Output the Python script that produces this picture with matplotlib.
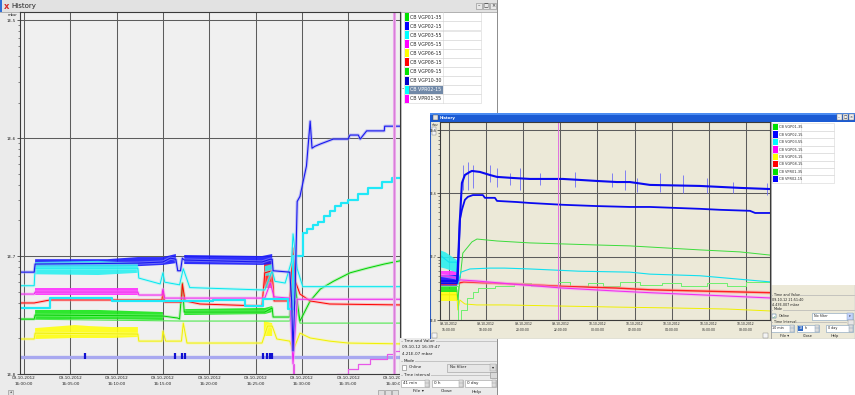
import matplotlib.pyplot as plt
import numpy as np
from matplotlib.patches import Rectangle
from matplotlib.transforms import Bbox
from matplotlib.ticker import LogLocator, NullFormatter

nan = np.nan
W, H = 855, 395

# ---------------- window 1: 09-10-2012, minutes after 16:00:00 ----------------
left_ticks = [0, 5, 10, 15, 20, 25, 30, 35, 40]
left_tick_labels = ['09-10-2012\n16:00:00', '09-10-2012\n16:05:00', '09-10-2012\n16:10:00',
                    '09-10-2012\n16:15:00', '09-10-2012\n16:20:00', '09-10-2012\n16:25:00',
                    '09-10-2012\n16:30:00', '09-10-2012\n16:35:00', '09-10-2012\n16:40:00']
left_xlim = (-0.43, 40.6)
left_ylim = (1e-8, 1.17e-5)
left_cursor = 39.9
left_names = ['CB VGP01-35', 'CB VGP02-15', 'CB VGP03-55', 'CB VGP05-15', 'CB VGP06-15',
              'CB VGP08-15', 'CB VGP09-15', 'CB VGP10-30', 'CB VPR02-15', 'CB VPR01-35']
left_colors = ['#00e000', '#0000ff', '#00ffff', '#ff00ff', '#ffff00',
               '#ff0000', '#00e000', '#0000c8', '#00ffff', '#ff00ff']

l_vgp01_t = [-0.43, 1.1, 1.2, 15.0, 16.6, 16.8, 17.1, 17.3, 26.0, 26.8, 26.9, 28.7, 29.05,
             29.5, 29.8, 30.9, 32.0, 33.4, 35.2, 37.1, 38.9, 40.6]
l_vgp01_v = [2.92e-8, 2.92e-8, 3.16e-8, 3.1e-8, 2.98e-8, 2.92e-8, 5.9e-8, 3.35e-8, 3.35e-8,
             3.63e-8, 3.04e-8, 3.04e-8, 7.9e-8, 4.16e-8, 2.81e-8, 4.16e-8, 5.25e-8, 6.1e-8,
             7.2e-8, 7.9e-8, 8.55e-8, 9.1e-8]
l_vgp01_band_t = [1.2, 8.0, 15.0, nan, 17.3, 26.0, 26.8]
l_vgp01_band_hi = [3.49e-8, 3.49e-8, 3.35e-8, nan, 3.55e-8, 3.63e-8, 3.77e-8]
l_vgp01_band_lo = [2.92e-8, 2.92e-8, 2.87e-8, nan, 3.16e-8, 3.22e-8, 3.35e-8]

l_vgp09_t = [-0.43, 17.3, 28.7, 29.3, 29.8, 40.6]
l_vgp09_v = [2.92e-8, 2.81e-8, 2.81e-8, 4.16e-8, 2.7e-8, 2.7e-8]

l_vgp02_t = [-0.43, 1.1, 1.2, 12.3, 15.0, 15.8, 16.4, 16.6, 16.9, 17.1, 17.3, 25.7, 26.6,
             26.8, 26.9, 28.7, 28.9, 29.05, 29.3, 29.5, 29.8, 30.5, 30.9, 31.1, 31.4, 32.0,
             33.4, 35.0, 35.2, 36.1, 36.3, 37.0, 38.9, 38.95, 40.6]
l_vgp02_v = [7.3e-8, 7.3e-8, 8.55e-8, 8.7e-8, 8.9e-8, 9.6e-8, 9.4e-8, 7.5e-8, 7.5e-8, 9.6e-8,
             9.25e-8, 8.9e-8, 9.4e-8, 9.4e-8, 7.5e-8, 7.3e-8, 4.16e-8, 1.57e-8, 6.1e-8, 2.9e-7,
             3.2e-7, 5.8e-7, 1.39e-6, 8.2e-7, 8.5e-7, 8.9e-7, 9.8e-7, 9.8e-7, 1.06e-6, 1.06e-6,
             9.8e-7, 1.15e-6, 1.15e-6, 1.26e-6, 1.26e-6]
l_vgp02_band_t = [1.2, 9.0, 12.3, 15.0, 16.4, nan, 17.3, 25.7, 26.8]
l_vgp02_band_hi = [9.4e-8, 9.4e-8, 9.8e-8, 9.8e-8, 1.04e-7, nan, 1.02e-7, 1.0e-7, 1.04e-7]
l_vgp02_band_lo = [8.05e-8, 8.05e-8, 8.2e-8, 8.4e-8, 8.7e-8, nan, 8.55e-8, 8.4e-8, 8.55e-8]

l_vgp03_t = [-0.43, 1.1, 1.2, 12.3, 12.4, 14.7, 15.0, 15.2, 16.8, 17.2, 17.9, 26.0, 26.8,
             27.1, 28.2, 28.9, 29.05, 29.5, 30.1, 40.6]
l_vgp03_v = [5.6e-8, 5.6e-8, 7.9e-8, 7.9e-8, 6.5e-8, 5.8e-8, 7.2e-8, 6.0e-8, 5.7e-8, 7.8e-8,
             5.4e-8, 5.15e-8, 7.5e-8, 6.1e-8, 5.9e-8, 9.1e-8, 1.54e-7, 7.8e-8, 5.5e-8, 5.5e-8]
l_vgp03_band_t = [1.2, 8.0, 12.3, nan, 26.0, 26.8]
l_vgp03_band_hi = [8.9e-8, 9.1e-8, 8.7e-8, nan, 8.2e-8, 8.55e-8]
l_vgp03_band_lo = [7.0e-8, 6.9e-8, 7.2e-8, nan, 6.76e-8, 6.9e-8]

l_vpr02_t = [-0.43, 2.8, 9.5, 20.4, 23.9, 25.8, 28.5, 29.05, 30.1, 30.6, 31.2, 31.8, 32.4,
             33.0, 33.6, 34.2, 35.0, 36.1, 37.1, 38.7, 39.7, 40.6]
l_vpr02_v = [3.63e-8, 4.4e-8, 4.16e-8, 4.24e-8, 3.77e-8, 4.3e-8, 3.55e-8, 1.0e-7, 1.57e-7,
             1.7e-7, 1.83e-7, 1.96e-7, 2.2e-7, 2.4e-7, 2.65e-7, 2.81e-7, 3.0e-7, 3.35e-7,
             3.8e-7, 4.2e-7, 4.58e-7, 4.58e-7]

l_vgp05_t = [-0.43, 1.1, 1.2, 12.3, 12.4, 14.9, 15.0, 15.2, 26.0, 26.6, 27.0, 28.7, 29.05,
             29.5, 40.6]
l_vgp05_v = [4.76e-8, 4.76e-8, 4.95e-8, 4.95e-8, 4.67e-8, 4.67e-8, 5.25e-8, 4.4e-8, 4.4e-8,
             5.9e-8, 4.5e-8, 4.4e-8, 1.22e-8, 4.3e-8, 4.3e-8]
l_vgp05_band_t = [1.2, 12.3]
l_vgp05_band_hi = [5.4e-8, 5.4e-8]
l_vgp05_band_lo = [4.67e-8, 4.67e-8]

l_vgp06_t = [-0.43, 1.1, 1.2, 12.3, 12.4, 14.9, 15.0, 15.3, 17.0, 17.2, 17.6, 25.7, 26.3,
             26.8, 27.3, 28.7, 29.05, 29.8, 30.9, 33.0, 35.0, 40.6]
l_vgp06_v = [1.98e-8, 1.98e-8, 2.22e-8, 2.18e-8, 1.9e-8, 1.9e-8, 2.31e-8, 1.9e-8, 1.9e-8,
             2.7e-8, 1.83e-8, 1.83e-8, 2.55e-8, 2.55e-8, 1.98e-8, 1.9e-8, 1.57e-8, 2.22e-8,
             2.02e-8, 1.9e-8, 1.83e-8, 1.8e-8]
l_vgp06_band_t = [1.2, 5.5, 7.0, 9.5, 12.3, nan, 25.9, 26.8]
l_vgp06_band_hi = [2.45e-8, 2.6e-8, 2.55e-8, 2.5e-8, 2.5e-8, nan, 2.81e-8, 2.7e-8]
l_vgp06_band_lo = [1.98e-8, 2.02e-8, 2.02e-8, 2.02e-8, 2.06e-8, nan, 2.1e-8, 2.1e-8]

l_vgp08_t = [-0.43, 1.1, 2.8, 14.9, 15.0, 15.2, 17.0, 17.1, 17.4, 19.0, 25.7, 26.0, 26.8,
             27.0, 28.7, 29.05, 29.3, 29.8, 30.9, 33.0, 40.6]
l_vgp08_v = [4.0e-8, 4.0e-8, 4.24e-8, 4.24e-8, 5.05e-8, 4.07e-8, 4.07e-8, 5.8e-8, 4.16e-8,
             3.92e-8, 3.77e-8, 7.2e-8, 7.5e-8, 4.16e-8, 4.16e-8, 1.17e-7, 6.1e-8, 4.76e-8,
             4.16e-8, 3.92e-8, 3.85e-8]
l_vgp08_band_t = [25.9, 26.8]
l_vgp08_band_hi = [9.1e-8, 9.1e-8]
l_vgp08_band_lo = [5.4e-8, 5.4e-8]

l_vgp10_t = [-0.43, 40.6]
l_vgp10_v = [1.39e-8, 1.39e-8]
l_vgp10_blip_t = [6.6, 16.3, 17.1, 17.4, 25.8, 26.2, 26.6, 26.8]
l_vgp10_blip_lo = [1.33e-8] * 8
l_vgp10_blip_hi = [1.5e-8] * 8

l_vpr01_t = [-0.43, 28.9, 29.0, 29.2, 33.8, 35.0, 36.1, 37.4, 39.2, 40.0, 40.6]
l_vpr01_v = [8e-9, 8e-9, 1.22e-8, 8e-9, 1.0e-8, 1.1e-8, 1.22e-8, 1.34e-8, 1.48e-8, 1.57e-8,
             1.66e-8]

# ---------------- window 2: hours since 09-10-2012 00:00 ----------------
right_ticks = [16, 18, 20, 22, 24, 26, 28, 30, 32]
right_tick_labels = ['09-10-2012\n16:00:00', '09-10-2012\n18:00:00', '09-10-2012\n20:00:00',
                     '09-10-2012\n22:00:00', '10-10-2012\n00:00:00', '10-10-2012\n02:00:00',
                     '10-10-2012\n04:00:00', '10-10-2012\n06:00:00', '10-10-2012\n08:00:00']
right_xlim = (15.52, 33.3)
right_ylim = (1e-8, 1.34e-5)
right_cursor = 21.87
right_names = ['CB VGP01-35', 'CB VGP02-15', 'CB VGP03-55', 'CB VGP05-15', 'CB VGP06-15',
               'CB VGP08-15', 'CB VPR01-35', 'CB VPR02-15']
right_colors = ['#00e000', '#0000ff', '#00ffff', '#ff00ff', '#ffff00', '#ff0000',
                '#00e000', '#0000ff']

r_vgp01_t = [15.52, 16.43, 16.48, 16.75, 17.24, 17.51, 18.59, 20.36, 22.14, 23.97, 25.75,
             26.83, 29.52, 31.68, 33.3]
r_vgp01_v = [3.0e-8, 3.0e-8, 2.07e-8, 1.14e-7, 1.71e-7, 1.9e-7, 1.77e-7, 1.65e-7, 1.59e-7,
             1.53e-7, 1.48e-7, 1.42e-7, 1.28e-7, 1.19e-7, 1.06e-7]
r_vgp01_band_t = [15.52, 16.43]
r_vgp01_band_hi = [3.6e-8, 3.6e-8]
r_vgp01_band_lo = [2.8e-8, 2.8e-8]

r_vgp02_t = [15.52, 16.43, 16.48, 16.59, 16.7, 16.86, 17.13, 17.24, 17.67, 18.21, 18.59,
             19.45, 20.36, 22.14, 23.06, 23.97, 25.05, 25.75, 26.83, 29.52, 31.68, 33.3]
r_vgp02_v = [4.13e-8, 4.13e-8, 6.9e-8, 3.8e-7, 1.46e-6, 1.95e-6, 2.18e-6, 2.26e-6, 2.18e-6,
             1.95e-6, 1.82e-6, 1.75e-6, 1.69e-6, 1.69e-6, 1.63e-6, 1.57e-6, 1.51e-6, 1.51e-6,
             1.36e-6, 1.31e-6, 1.22e-6, 1.17e-6]
r_vgp02_band_t = [15.52, 16.43]
r_vgp02_band_hi = [5.1e-8, 5.1e-8]
r_vgp02_band_lo = [3.3e-8, 3.3e-8]
r_spike_t = [16.77, 17.04, 17.31, 18.21, 18.57, 19.29, 19.83, 20.9, 21.89, 22.79, 24.77,
             25.48, 26.11, 27.37, 28.62, 29.88, 31.32, 33.12]
r_spike_hi = [2.81e-6, 3.13e-6, 2.81e-6, 2.81e-6, 2.52e-6, 2.1e-6, 2.52e-6, 2.1e-6, 2.61e-6,
              2.18e-6, 2.1e-6, 2.34e-6, 1.75e-6, 2.1e-6, 1.95e-6, 1.75e-6, 1.51e-6, 1.46e-6]
r_spike_lo = [1.13e-6, 1.13e-6, 1.22e-6, 1.51e-6, 1.26e-6, 1.36e-6, 1.13e-6, 1.36e-6, 1.22e-6,
              1.26e-6, 1.26e-6, 1.13e-6, 1.05e-6, 1.05e-6, 1.01e-6, 1.01e-6, 1.01e-6, 9.4e-7]

r_vpr02_t = [15.52, 16.43, 16.48, 16.59, 16.7, 16.86, 17.02, 17.29, 17.83, 17.94, 18.48,
             18.59, 19.66, 20.36, 22.14, 23.97, 25.75, 26.83, 29.52, 30.6, 32.22, 32.5, 33.3]
r_vpr02_v = [3.8e-8, 3.8e-8, 4.3e-8, 3.8e-7, 5.5e-7, 7.9e-7, 8.8e-7, 9.4e-7, 9.4e-7, 8.5e-7,
             8.5e-7, 7.6e-7, 7.3e-7, 7.05e-7, 6.6e-7, 6.3e-7, 6.1e-7, 6.1e-7, 5.7e-7, 5.5e-7,
             5.3e-7, 4.9e-7, 4.9e-7]

r_vpr01_t = [15.52, 16.43, 16.48, 16.54, 16.65, 16.97, 17.29, 17.56, 18.5, 19.5, 20.4, 21.9,
             22.5, 23.5, 24.3, 25.2, 26.3, 27.5, 28.5, 29.9, 31.0, 32.0, 33.3]
r_vpr01_v = [3.4e-8, 3.4e-8, 9e-9, 1.0e-8, 1.44e-8, 2.23e-8, 2.8e-8, 3.2e-8, 3.4e-8, 3.8e-8,
             3.4e-8, 4.0e-8, 3.4e-8, 3.8e-8, 3.4e-8, 4.0e-8, 3.6e-8, 3.8e-8, 3.4e-8, 3.8e-8,
             3.4e-8, 4.0e-8, 4.0e-8]

r_vgp03_t = [15.52, 16.0, 16.43, 16.48, 16.65, 17.13, 18.21, 19.0, 20.36, 23.0, 25.75,
             26.83, 29.52, 31.68, 33.3]
r_vgp03_v = [1.06e-7, 8.2e-8, 8.2e-8, 3.6e-8, 5.7e-8, 6.4e-8, 6.6e-8, 6.6e-8, 6.4e-8, 5.9e-8,
             5.7e-8, 5.3e-8, 5.0e-8, 4.4e-8, 4.0e-8]
r_vgp03_band_t = [15.52, 15.8, 16.05, 16.43]
r_vgp03_band_hi = [1.28e-7, 1.19e-7, 1.06e-7, 8.9e-8]
r_vgp03_band_lo = [6.9e-8, 6.6e-8, 6.2e-8, 5.7e-8]

r_vgp05_t = [15.52, 16.43, 16.48, 16.6, 17.5, 19.4, 22.1, 25.0, 26.83, 29.5, 33.3]
r_vgp05_v = [5.1e-8, 4.6e-8, 4.0e-8, 4.3e-8, 4.13e-8, 3.7e-8, 3.2e-8, 2.87e-8, 2.7e-8,
             2.5e-8, 2.23e-8]
r_vgp05_band_t = [15.52, 16.43]
r_vgp05_band_hi = [5.9e-8, 5.9e-8]
r_vgp05_band_lo = [4.0e-8, 4.0e-8]

r_vgp08_t = [15.52, 16.43, 16.48, 16.8, 18.5, 20.4, 22.1, 25.0, 26.83, 29.5, 33.3]
r_vgp08_v = [3.7e-8, 3.7e-8, 3.8e-8, 4.0e-8, 3.8e-8, 3.6e-8, 3.4e-8, 3.2e-8, 3.0e-8,
             2.87e-8, 2.7e-8]

r_vgp06_t = [15.52, 16.43, 16.48, 16.59, 16.86, 17.5, 19.0, 22.1, 25.0, 28.0, 31.0, 33.3]
r_vgp06_v = [2.5e-8, 2.5e-8, 1.44e-8, 2.07e-8, 1.79e-8, 1.73e-8, 1.73e-8, 1.66e-8, 1.6e-8,
             1.55e-8, 1.49e-8, 1.39e-8]
r_vgp06_band_t = [15.52, 16.43]
r_vgp06_band_hi = [3.09e-8, 3.09e-8]
r_vgp06_band_lo = [2.0e-8, 2.0e-8]

decades = [1e-8, 1e-7, 1e-6, 1e-5]
decade_labels = ['1E-8', '1E-7', '1E-6', '1E-5']


fig = plt.figure(figsize=(W / 100, H / 100), dpi=100)
fig.patch.set_facecolor('white')


def frame(x0, y0, x1, y1):
    return [x0 / W, 1 - y1 / H, (x1 - x0) / W, (y1 - y0) / H]


def chrome_axes(x0, y0, x1, y1, z):
    ax = fig.add_axes(frame(x0, y0, x1, y1))
    ax.set_xlim(x0, x1)
    ax.set_ylim(y1, y0)
    ax.set_axis_off()
    ax.set_zorder(z)
    return ax


def box(ax, x, y, w, h, fc, ec='none', lw=0.5):
    ax.add_patch(Rectangle((x, y), w, h, facecolor=fc, edgecolor=ec, linewidth=lw))


def say(ax, x, y, s, fs, color='#222222', ha='left', **kw):
    ax.text(x, y, s, fontsize=fs, color=color, ha=ha, va='center', **kw)


def hline(ax, x0, x1, y, color='#b4b4b4', lw=0.5):
    ax.plot([x0, x1], [y, y], color=color, lw=lw)


def group(ax, x0, x1, y, title, fs, bg):
    hline(ax, x0, x1, y)
    say(ax, x0 + 2.5, y, title, fs, bbox=dict(boxstyle='square,pad=0.1', fc=bg, ec='none'))


def spinbox(ax, x, y, w, h, fc, ec):
    # text field with a small up/down button on the right
    box(ax, x, y, w, h, fc, ec, 0.4)
    box(ax, x + w - 4.5, y, 4.5, h, '#dcdcdc', ec, 0.3)
    hline(ax, x + w - 4.5, x + w, y + h / 2, ec, 0.3)


def legend_table(ax, x0, y0, row_h, sw, text_x1, x1, names, colors, fs, marked, selected=None):
    for i, (name, c) in enumerate(zip(names, colors)):
        y = y0 + i * row_h
        box(ax, x0, y, x1 - x0, row_h, 'white', '#d4d4d4', 0.4)
        box(ax, x0 + 1, y + 0.6, sw, row_h - 1.2, c)
        tx = x0 + 1.5 + sw
        tcol = '#2a2a2a'
        if i == selected:
            box(ax, tx - 0.3, y + 0.4, text_x1 - tx + 0.3, row_h - 0.8, '#7189a8')
            tcol = 'white'
        ax.plot([text_x1, text_x1], [y, y + row_h], color='#d4d4d4', lw=0.4)
        say(ax, tx + 0.6, y + row_h / 2 + 0.2, name, fs, tcol)
        if i == marked:
            say(ax, x0 - 0.8, y + row_h / 2, '•', fs * 0.8, '#444444', ha='right')


def trend_axes(x0, y0, x1, y1, z, bg, xlim, ylim, ticks, labels, fs):
    ax = fig.add_axes(frame(x0, y0, x1, y1))
    ax.set_zorder(z)
    ax.set_facecolor(bg)
    ax.set_yscale('log')
    ax.set_xlim(*xlim)
    ax.set_ylim(*ylim)
    ax.set_xticks(ticks, labels)
    ax.set_yticks(decades, decade_labels)
    ax.yaxis.set_minor_locator(LogLocator(subs=np.arange(2, 10)))
    ax.yaxis.set_minor_formatter(NullFormatter())
    ax.tick_params(axis='x', labelsize=fs, length=0, pad=1.5, colors='#222222')
    ax.tick_params(axis='y', which='major', labelsize=fs, length=2, width=0.5, pad=0.8,
                   colors='#222222')
    ax.tick_params(axis='y', which='minor', length=1.2, width=0.4, colors='#333333')
    for lbl in ax.get_xticklabels():
        lbl.set_linespacing(1.6)
    ax.grid(True, which='major', color='#5c5c5c', lw=0.75)
    ax.set_axisbelow(True)
    for sp in ax.spines.values():
        sp.set_color('#3a3a3a')
        sp.set_linewidth(0.8)
    return ax


def trace(ax, t, v, color, lw=0.7, halo=None, step=False):
    ds = 'steps-post' if step else 'default'
    if halo:
        ax.plot(t, v, color=halo, lw=lw + 1.5, alpha=0.55, drawstyle=ds)
    ax.plot(t, v, color=color, lw=lw, drawstyle=ds)


def band(ax, t, lo, hi, color, alpha=0.9):
    ax.fill_between(t, lo, hi, color=color, alpha=alpha, lw=0)


# ---------------- window 1 chrome ----------------
bg = chrome_axes(0, 0, W, H, 0)
box(bg, 0, 0, 497, H, '#ebebeb')
box(bg, 0, 0, 497, 12, '#e2e2e2')
hline(bg, 0, 497, 12, '#a8a8a8', 0.6)
box(bg, 0, 0, 2, 12, '#2f6fd6')
say(bg, 4, 6.4, 'x', 6, '#d42a2a', fontweight='bold')
say(bg, 11, 6.2, 'History', 5)
for x, s in zip([476, 483, 490], ['–', '□', '×']):
    box(bg, x, 3, 6, 6, '#e8e8e8', '#8a8a8a', 0.4)
    say(bg, x + 3, 6, s, 3.5, ha='center')
box(bg, 400, 12, 97, 326, 'white')
box(bg, 399, 12, 3, 326, '#c4c4c4')
bg.plot([497, 497], [0, H], color='#8c8c8c', lw=0.7)
say(bg, 8, 15.5, 'mbar', 2.6)
box(bg, 8, 389.5, 5, 5, '#dedede', '#8a8a8a', 0.4)
say(bg, 10.5, 392, '◂', 2.5, ha='center')
for x in [378, 385, 392]:
    box(bg, x, 389.5, 6, 5, '#dedede', '#8a8a8a', 0.4)
legend_table(bg, 404, 12.3, 9.1, 4.2, 442.5, 481, left_names, left_colors, 3.4,
             marked=8, selected=8)

# ---------------- window 1 trend ----------------
ax1 = trend_axes(20, 12, 400, 374, 1, '#f0f0f0', left_xlim, left_ylim,
                 left_ticks, left_tick_labels, 3.0)
# time labels are cut off where the control panel starts
label_clip = Bbox.from_extents(0, 0, 400, H)
for lbl in ax1.get_xticklabels():
    lbl.set_clip_box(label_clip)
    lbl.set_clip_on(True)
trace(ax1, l_vgp10_t, l_vgp10_v, '#a8a8f0', lw=2.4)
ax1.vlines(l_vgp10_blip_t, l_vgp10_blip_lo, l_vgp10_blip_hi, color='#1010d0', lw=1.6)
trace(ax1, l_vpr01_t, l_vpr01_v, '#e858e8', lw=0.9, step=True)
band(ax1, l_vgp06_band_t, l_vgp06_band_lo, l_vgp06_band_hi, '#ffff10')
trace(ax1, l_vgp06_t, l_vgp06_v, '#f0f000', halo='#fafa90')
trace(ax1, l_vgp09_t, l_vgp09_v, '#4fe84f', lw=0.8)
band(ax1, l_vgp01_band_t, l_vgp01_band_lo, l_vgp01_band_hi, '#19e619')
trace(ax1, l_vgp01_t, l_vgp01_v, '#00d000', halo='#8af08a')
band(ax1, l_vgp08_band_t, l_vgp08_band_lo, l_vgp08_band_hi, '#ff2020')
trace(ax1, l_vgp08_t, l_vgp08_v, '#ff0000', halo='#ff9a9a')
band(ax1, l_vgp05_band_t, l_vgp05_band_lo, l_vgp05_band_hi, '#ff30ff')
trace(ax1, l_vgp05_t, l_vgp05_v, '#f020f0', halo='#f5a0f5')
trace(ax1, l_vpr02_t, l_vpr02_v, '#20e8f8', lw=1.6, step=True)
band(ax1, l_vgp02_band_t, l_vgp02_band_lo, l_vgp02_band_hi, '#1a1aff')
band(ax1, l_vgp03_band_t, l_vgp03_band_lo, l_vgp03_band_hi, '#2cf0f0')
trace(ax1, l_vgp03_t, l_vgp03_v, '#00e8f0', halo='#9ff5f5')
trace(ax1, l_vgp02_t, l_vgp02_v, '#1818f0', lw=0.8, halo='#9c9cf4')
ax1.axvline(left_cursor, color='#eaa6ea', lw=2.2)
ax1.axvline(left_cursor, color='#d070d0', lw=0.5)

# ---------------- window 1 control panel ----------------
p1 = chrome_axes(400, 338, 497, 395, 2)
pbg = '#ebebeb'
box(p1, 400, 338, 97, 57, pbg)
group(p1, 401, 496, 341, 'Time and Value', 3.0, pbg)
say(p1, 401.5, 347.5, '09-10-12 16:39:47', 3.0)
say(p1, 401.5, 354, '4.21E-07 mbar', 3.0)
group(p1, 401, 496, 360.5, 'Mode', 3.0, pbg)
box(p1, 401.5, 365, 4.5, 4.5, 'white', '#7a7a7a', 0.4)
say(p1, 408.5, 367.3, 'Online', 3.0)
box(p1, 447, 363.5, 49, 8, '#e6e6e6', '#9a9a9a', 0.4)
say(p1, 450, 367.5, 'No filter', 3.0)
box(p1, 490, 364, 5.5, 7, '#dadada', '#9a9a9a', 0.3)
say(p1, 492.7, 367.5, '▾', 3.0, ha='center')
group(p1, 401, 489, 375, 'Time interval', 3.0, pbg)
box(p1, 490, 371.5, 6.5, 6.5, '#d9d9d9', '#8a8a8a', 0.4)
for x, w, s in zip([401, 432, 465], [28, 31, 31], ['41 min', '0 h', '0 day']):
    spinbox(p1, x, 379.5, w, 7.5, 'white', '#9a9a9a')
    say(p1, x + 1.5, 383.3, s, 3.0)
for x, s in zip([418, 447, 477], ['File ▾', 'Close', 'Help']):
    say(p1, x, 391.5, s, 3.2, ha='center')

# ---------------- window 2 chrome ----------------
w2 = chrome_axes(430, 113, 855, 339, 3)
beige = '#ece9d8'
box(w2, 430, 113, 425, 226, beige, '#2c5cc0', 0.8)
box(w2, 430, 113, 425, 9, '#1b5bd4')
box(w2, 430, 113, 425, 2, '#4b8cf2')
box(w2, 432.5, 114.5, 5, 5.5, '#e3e3e3', '#444444', 0.3)
say(w2, 440, 117.6, 'History', 2.8, 'white', fontweight='bold')
for x, s in zip([836.5, 842.5, 848.5], ['–', '□', '×']):
    box(w2, x, 114.3, 5.5, 6, '#f0f0f0', '#6f6f6f', 0.3)
    say(w2, x + 2.75, 117.3, s, 2.6, ha='center')
box(w2, 770, 122, 85, 163, 'white')
w2.plot([770.5, 770.5], [122, 339], color='#9d9d9d', lw=0.6)
say(w2, 431.5, 124.5, 'mbar', 1.8)
box(w2, 432, 127, 4, 3.5, '#f4f4f4', '#777777', 0.3)
box(w2, 432, 131, 4, 3.5, '#f4f4f4', '#777777', 0.3)
box(w2, 432, 333, 5, 4.5, '#f4f4f4', '#777777', 0.3)
box(w2, 763, 333, 5, 4.5, '#f4f4f4', '#777777', 0.3)
legend_table(w2, 772, 123.3, 7.45, 4.5, 801, 834, right_names, right_colors, 2.5, marked=7)

group(w2, 771, 854, 295, 'Time and Value', 2.4, beige)
say(w2, 772, 300, '09-10-12 21:51:40', 2.4)
say(w2, 772, 305, '4.43E-007 mbar', 2.4)
group(w2, 771, 854, 309.5, 'Mode', 2.4, beige)
box(w2, 772, 314, 4, 4, 'white', '#1c5180', 0.3)
say(w2, 774, 316, '✓', 2.4, '#1d8a1d', ha='center')
say(w2, 779, 316, 'Online', 2.4)
box(w2, 812, 313, 41, 6.5, 'white', '#7f9db9', 0.4)
say(w2, 814, 316.3, 'No filter', 2.4)
box(w2, 847, 313, 6, 6.5, '#c3d3fd', '#7f9db9', 0.3)
say(w2, 850, 316.3, '▾', 2.4, ha='center')
group(w2, 771, 846, 322, 'Time Interval', 2.4, beige)
box(w2, 848, 319.5, 6, 5.5, '#e6e6e6', '#8a8a8a', 0.3)
spinbox(w2, 771, 325, 23, 6.5, 'white', '#7f9db9')
say(w2, 772.5, 328.3, '10 min', 2.4)
spinbox(w2, 797, 325, 22, 6.5, 'white', '#7f9db9')
box(w2, 798.2, 326, 4.4, 4.6, '#316ac5')
say(w2, 798.6, 328.3, '18', 2.4, 'white')
say(w2, 804.5, 328.3, 'h', 2.4)
spinbox(w2, 826, 325, 27, 6.5, 'white', '#7f9db9')
say(w2, 827.5, 328.3, '0 day', 2.4)
for x, s in zip([785, 808, 835], ['File ▾', 'Close', 'Help']):
    say(w2, x, 336, s, 2.6, ha='center')

# ---------------- window 2 trend ----------------
ax2 = trend_axes(440, 122, 770, 320, 4, beige, right_xlim, right_ylim,
                 right_ticks, right_tick_labels, 2.2)
band(ax2, r_vgp06_band_t, r_vgp06_band_lo, r_vgp06_band_hi, '#ffff10')
trace(ax2, r_vgp06_t, r_vgp06_v, '#f0f000', lw=0.7)
trace(ax2, r_vpr01_t, r_vpr01_v, '#6ef06e', lw=0.7, step=True)
band(ax2, r_vgp01_band_t, r_vgp01_band_lo, r_vgp01_band_hi, '#19e619')
trace(ax2, r_vgp01_t, r_vgp01_v, '#3cdc3c', lw=0.7)
trace(ax2, r_vgp08_t, r_vgp08_v, '#ff2020', lw=1.0, halo='#ff9a9a')
band(ax2, r_vgp05_band_t, r_vgp05_band_lo, r_vgp05_band_hi, '#ff30ff')
trace(ax2, r_vgp05_t, r_vgp05_v, '#f030f0', lw=0.8, halo='#f5a8f5')
band(ax2, r_vgp03_band_t, r_vgp03_band_lo, r_vgp03_band_hi, '#2cf0f0')
trace(ax2, r_vgp03_t, r_vgp03_v, '#10e0f0', lw=0.8)
band(ax2, r_vgp02_band_t, r_vgp02_band_lo, r_vgp02_band_hi, '#1a1aff')
ax2.vlines(r_spike_t, r_spike_lo, r_spike_hi, color='#6f6ff5', lw=0.6)
trace(ax2, r_vpr02_t, r_vpr02_v, '#0a0af0', lw=1.3)
trace(ax2, r_vgp02_t, r_vgp02_v, '#0a0af0', lw=1.5)
ax2.axvline(right_cursor, color='#e070e0', lw=0.7)

fig.savefig('out.png', dpi=100)
